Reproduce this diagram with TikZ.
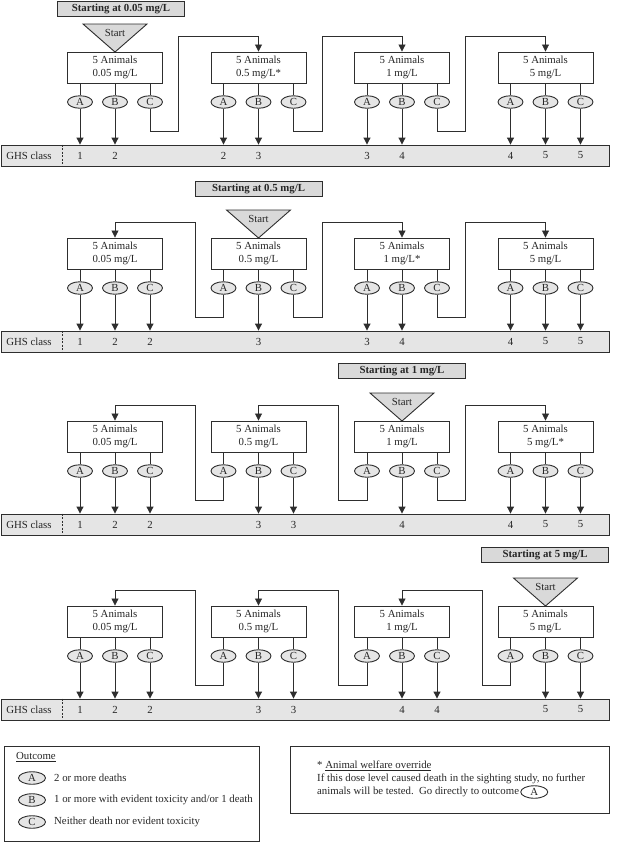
\documentclass[tikz,border=0pt]{standalone}
\usepackage{fontspec}
\setmainfont{Liberation Serif}
\usetikzlibrary{arrows.meta,shapes.geometric,calc}
\definecolor{linec}{gray}{0.18}
\definecolor{hdrfill}{gray}{0.85}
\definecolor{barfill}{gray}{0.9}
\definecolor{ovfill}{gray}{0.9}
\tikzset{
  every node/.style={font=\fontsize{10.8}{12.5}\selectfont, text=black!85},
  dbox/.style={draw=linec, line width=0.9pt, fill=white, minimum width=95pt, minimum height=31pt, inner sep=0pt, align=center},
  oval/.style={draw=linec, line width=0.9pt, fill=ovfill, ellipse, minimum width=25pt, minimum height=12.5pt, inner sep=0pt, text height=7pt, text depth=0pt},
  hdr/.style={draw=linec, line width=0.9pt, fill=hdrfill, minimum width=127pt, minimum height=15pt, inner sep=0pt, font=\fontsize{10.8}{12.5}\selectfont\bfseries},
  ghsbar/.style={draw=linec, line width=0.9pt, fill=barfill, minimum width=608pt, minimum height=21pt, inner sep=0pt},
  tri/.style={draw=linec, line width=0.9pt, fill=hdrfill},
  stub/.style={draw=linec, line width=0.8pt},
  conn/.style={draw=linec, line width=0.8pt, -{Triangle[length=7pt,width=7pt]}},
  arr/.style={draw=linec, line width=1pt, -{Triangle[length=7pt,width=7pt]}},
  lgbox/.style={draw=linec, line width=0.9pt},
}
% dose box with its three outcome ovals
\newcommand\dosebox[4]{%
  \node[dbox] (#1) at (#2,#3+15.5) {5 Animals\\#4};
  \node[oval] (#1A) at (#2-35,#3+50) {A};
  \node[oval] (#1B) at (#2,#3+50) {B};
  \node[oval] (#1C) at (#2+35,#3+50) {C};
  \draw[stub] (#1.south -| #1A) -- (#1A.north);
  \draw[stub] (#1.south -| #1B) -- (#1B.north);
  \draw[stub] (#1.south -| #1C) -- (#1C.north);
}
% GHS bar
\newcommand\ghsbar[2]{%
  \node[ghsbar] (#1) at (305,#2+103.5) {};
  \draw[linec, line width=0.8pt, dashed, dash pattern=on 2pt off 1.5pt] ([xshift=62pt]#1.north west) -- ([xshift=62pt]#1.south west);
  \node (#1lab) at (29,#2+103.5) {GHS class};
}
% outcome -> GHS number
\newcommand\ghs[3]{%
  \node (#1n) at (#1 |- #2) {#3};
  \draw[arr] (#1.south) -- (#1 |- #2.north);
}
% start triangle
\newcommand\starttri[3]{%
  \draw[tri] (#2-32,#3-28) -- (#2+32,#3-28) -- (#2,#3) -- cycle;
  \node (#1) at (#2,#3-19.5) {Start};
}
\begin{document}
\begin{tikzpicture}[x=1pt,y=-1pt]
\useasboundingbox (0,0) rectangle (623,855);

%================ Section 1 (T=52)
\node[hdr] (h1) at (121,8.5) {Starting at 0.05 mg/L};
\dosebox{sAa}{115}{52}{0.05 mg/L}
\dosebox{sAb}{258.5}{52}{0.5 mg/L*}
\dosebox{sAc}{402}{52}{1 mg/L}
\dosebox{sAd}{545.5}{52}{5 mg/L}
\starttri{st1}{115}{52}
\ghsbar{g1}{52}
\ghs{sAaA}{g1}{1}
\ghs{sAaB}{g1}{2}
\ghs{sAbA}{g1}{2}
\ghs{sAbB}{g1}{3}
\ghs{sAcA}{g1}{3}
\ghs{sAcB}{g1}{4}
\ghs{sAdA}{g1}{4}
\ghs{sAdB}{g1}{5}
\ghs{sAdC}{g1}{5}
\draw[conn] (sAaC.south) |- (178,131) -- (178,36) -| (sAb.north);
\draw[conn] (sAbC.south) |- (322,131) -- (322,36) -| (sAc.north);
\draw[conn] (sAcC.south) |- (465,131) -- (465,36) -| (sAd.north);

%================ Section 2 (T=238)
\node[hdr] (h2) at (258.5,188.5) {Starting at 0.5 mg/L};
\dosebox{sBa}{115}{238}{0.05 mg/L}
\dosebox{sBb}{258.5}{238}{0.5 mg/L}
\dosebox{sBc}{402}{238}{1 mg/L*}
\dosebox{sBd}{545.5}{238}{5 mg/L}
\starttri{st2}{258.5}{238}
\ghsbar{g2}{238}
\ghs{sBaA}{g2}{1}
\ghs{sBaB}{g2}{2}
\ghs{sBaC}{g2}{2}
\ghs{sBbB}{g2}{3}
\ghs{sBcA}{g2}{3}
\ghs{sBcB}{g2}{4}
\ghs{sBdA}{g2}{4}
\ghs{sBdB}{g2}{5}
\ghs{sBdC}{g2}{5}
\draw[conn] (sBbA.south) |- (195,317) -- (195,222) -| (sBa.north);
\draw[conn] (sBbC.south) |- (322,317) -- (322,222) -| (sBc.north);
\draw[conn] (sBcC.south) |- (465,317) -- (465,222) -| (sBd.north);

%================ Section 3 (T=421)
\node[hdr] (h3) at (402,371) {Starting at 1 mg/L};
\dosebox{sCa}{115}{421}{0.05 mg/L}
\dosebox{sCb}{258.5}{421}{0.5 mg/L}
\dosebox{sCc}{402}{421}{1 mg/L}
\dosebox{sCd}{545.5}{421}{5 mg/L*}
\starttri{st3}{402}{421}
\ghsbar{g3}{421}
\ghs{sCaA}{g3}{1}
\ghs{sCaB}{g3}{2}
\ghs{sCaC}{g3}{2}
\ghs{sCbB}{g3}{3}
\ghs{sCbC}{g3}{3}
\ghs{sCcB}{g3}{4}
\ghs{sCdA}{g3}{4}
\ghs{sCdB}{g3}{5}
\ghs{sCdC}{g3}{5}
\draw[conn] (sCbA.south) |- (195,500) -- (195,405) -| (sCa.north);
\draw[conn] (sCcA.south) |- (338,500) -- (338,405) -| (sCb.north);
\draw[conn] (sCcC.south) |- (465,500) -- (465,405) -| (sCd.north);

%================ Section 4 (T=606)
\node[hdr] (h4) at (545,555) {Starting at 5 mg/L};
\dosebox{sDa}{115}{606}{0.05 mg/L}
\dosebox{sDb}{258.5}{606}{0.5 mg/L}
\dosebox{sDc}{402}{606}{1 mg/L}
\dosebox{sDd}{545.5}{606}{5 mg/L}
\starttri{st4}{545.5}{606}
\ghsbar{g4}{606}
\ghs{sDaA}{g4}{1}
\ghs{sDaB}{g4}{2}
\ghs{sDaC}{g4}{2}
\ghs{sDbB}{g4}{3}
\ghs{sDbC}{g4}{3}
\ghs{sDcB}{g4}{4}
\ghs{sDcC}{g4}{4}
\ghs{sDdB}{g4}{5}
\ghs{sDdC}{g4}{5}
\draw[conn] (sDbA.south) |- (195,685) -- (195,590) -| (sDa.north);
\draw[conn] (sDcA.south) |- (338,685) -- (338,590) -| (sDb.north);
\draw[conn] (sDdA.south) |- (482,685) -- (482,590) -| (sDc.north);

%================ Legend
\draw[lgbox] (4,746) rectangle (259,841);
\node[anchor=west, inner sep=0pt] (outc) at (16,757) {\underline{Outcome}};
\node[oval, minimum width=27pt] (lgA) at (32,778) {A};
\node[oval, minimum width=27pt] (lgB) at (32,800) {B};
\node[oval, minimum width=27pt] (lgC) at (32,822) {C};
\node[anchor=west, inner sep=0pt] (lgAt) at (54,778) {2 or more deaths};
\node[anchor=west, inner sep=0pt] (lgBt) at (54,800) {1 or more with evident toxicity and/or 1 death};
\node[anchor=west, inner sep=0pt] (lgCt) at (54,822) {Neither death nor evident toxicity};

\draw[lgbox] (290,746) rectangle (609,813);
\node[anchor=west, inner sep=0pt] (wf1) at (317,766) {* \underline{Animal welfare override}};
\node[anchor=west, inner sep=0pt] (wf2) at (317,779) {If this dose level caused death in the sighting study, no further};
\node[anchor=west, inner sep=0pt] (wf3) at (317,792) {animals will be tested.\ \ Go directly to outcome};
\node[oval, fill=white, minimum width=27pt] (wfA) at ([xshift=15pt]wf3.east) {A};
\end{tikzpicture}
\end{document}
